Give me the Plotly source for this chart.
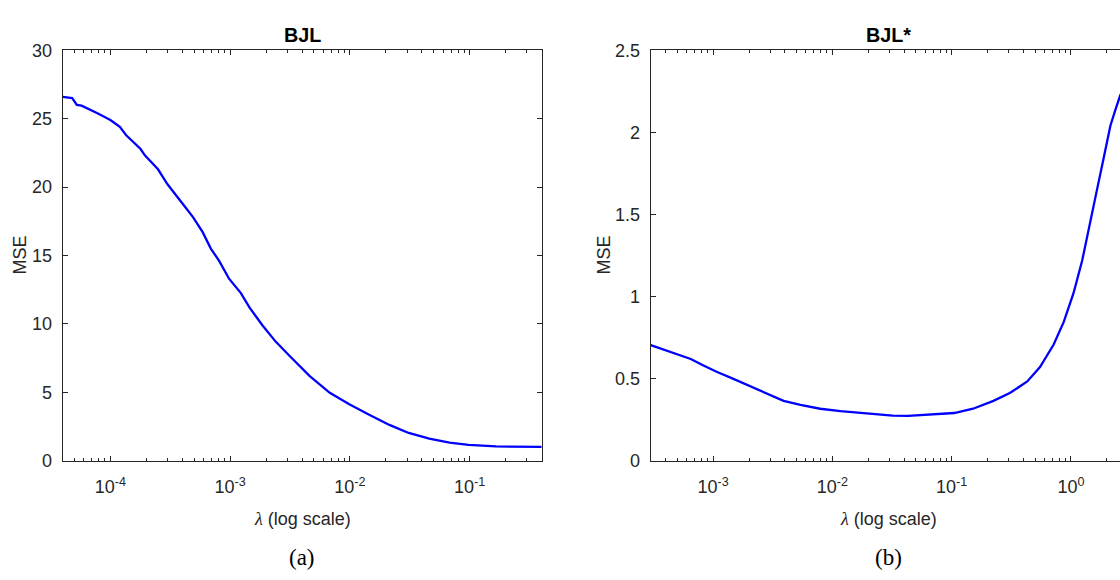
import plotly.graph_objects as go

# ---- data: BJL (panel a) ----
lam_a = [4.0e-5, 4.8e-5, 5.25e-5, 5.75e-5, 7.8e-5, 1.0e-4, 1.2e-4, 1.35e-4, 1.78e-4, 1.95e-4,
         2.5e-4, 3.0e-4, 4.0e-4, 4.9e-4, 5.9e-4, 6.9e-4, 8.1e-4, 9.8e-4, 1.23e-3, 1.45e-3,
         1.86e-3, 2.4e-3, 3.1e-3, 4.6e-3, 6.8e-3, 9.8e-3, 1.45e-2, 2.14e-2, 3.1e-2, 4.6e-2,
         6.8e-2, 9.8e-2, 0.166, 0.275, 0.4]
mse_a = [26.6, 26.5, 26.0, 25.95, 25.4, 24.9, 24.4, 23.8, 22.8, 22.3,
         21.3, 20.2, 18.8, 17.8, 16.7, 15.5, 14.6, 13.3, 12.25, 11.2,
         9.9, 8.7, 7.7, 6.2, 4.96, 4.14, 3.36, 2.61, 2.02, 1.6,
         1.32, 1.15, 1.04, 1.01, 1.0]

# ---- data: BJL* (panel b) ----
lam_b = [3.0e-4, 3.6e-4, 4.7e-4, 6.5e-4, 8.3e-4, 1.07e-3, 1.48e-3, 2.04e-3, 2.8e-3, 3.9e-3,
         5.4e-3, 7.9e-3, 1.17e-2, 1.95e-2, 3.2e-2, 4.3e-2, 7.1e-2, 0.105, 0.151, 0.224,
         0.31, 0.43, 0.55, 0.716, 0.87, 1.05, 1.24, 1.46, 1.65, 1.88,
         2.14, 2.36, 2.59, 2.9]
mse_b = [0.704, 0.684, 0.658, 0.619, 0.58, 0.541, 0.498, 0.453, 0.41, 0.364,
         0.339, 0.316, 0.302, 0.286, 0.274, 0.272, 0.280, 0.29, 0.316, 0.364,
         0.413, 0.482, 0.57, 0.707, 0.845, 1.02, 1.217, 1.452, 1.648, 1.844,
         2.04, 2.138, 2.226, 2.30]

xtick_a_vals = [1e-4, 1e-3, 1e-2, 1e-1]
xtick_a_text = ["10<sup>-4</sup>", "10<sup>-3</sup>", "10<sup>-2</sup>", "10<sup>-1</sup>"]
xtick_b_vals = [1e-3, 1e-2, 1e-1, 1e0]
xtick_b_text = ["10<sup>-3</sup>", "10<sup>-2</sup>", "10<sup>-1</sup>", "10<sup>0</sup>"]
ytick_a = [0, 5, 10, 15, 20, 25, 30]
ytick_b = [0, 0.5, 1, 1.5, 2, 2.5]
ytick_b_text = ["0", "0.5", "1", "1.5", "2", "2.5"]

# minor tick positions (2..9 x each decade)
minor_vals = [m * 10.0 ** e for e in range(-6, 2) for m in range(2, 10)]

W, H = 1120, 580
AX = "#262626"
SANS = "Liberation Sans, Arial, sans-serif"
SERIF = "Liberation Serif, DejaVu Serif, serif"
FS = 18

fig = go.Figure()
fig.add_trace(go.Scatter(x=lam_a, y=mse_a, mode="lines", line=dict(color="#0000ff", width=2.3),
                         xaxis="x", yaxis="y", showlegend=False))
fig.add_trace(go.Scatter(x=lam_b, y=mse_b, mode="lines", line=dict(color="#0000ff", width=2.3),
                         xaxis="x2", yaxis="y2", showlegend=False))

top_px, bot_px = 41.7, 466.7
ydom = [1 - bot_px / H, 1 - top_px / H]
xdom_a = [62.7 / W, 541.7 / W]
xdom_b = [650.7 / W, 1.0]

common_x = dict(type="log", showline=True, linecolor=AX, linewidth=1, ticks="inside",
                ticklen=5, tickwidth=1, tickcolor=AX, mirror="ticks", showgrid=False,
                zeroline=False, tickfont=dict(family=SANS, size=FS, color=AX),
                minor=dict(tickmode="array", tickvals=minor_vals, ticks="inside", ticklen=3,
                           tickwidth=1, tickcolor=AX, showgrid=False),
                ticklabelstandoff=10)
common_y = dict(showline=True, linecolor=AX, linewidth=1, ticks="inside", ticklen=5,
                tickwidth=1, tickcolor=AX, showgrid=False, zeroline=False,
                tickfont=dict(family=SANS, size=FS, color=AX), ticklabelstandoff=6)

fig.update_layout(
    width=W, height=H, margin=dict(l=0, r=0, t=0, b=0),
    paper_bgcolor="white", plot_bgcolor="white",
    xaxis=dict(common_x, domain=xdom_a, anchor="y", range=[-4.398, -0.398],
               tickvals=xtick_a_vals, ticktext=xtick_a_text),
    yaxis=dict(common_y, domain=ydom, anchor="x", range=[0, 30], tickvals=ytick_a, mirror="ticks"),
    xaxis2=dict(common_x, domain=xdom_b, anchor="y2", range=[-3.523, 0.411],
                tickvals=xtick_b_vals, ticktext=xtick_b_text),
    yaxis2=dict(common_y, domain=ydom, anchor="x2", range=[0, 2.5], tickvals=ytick_b,
                ticktext=ytick_b_text, mirror=False),
)

cx_a = (xdom_a[0] + xdom_a[1]) / 2
cx_b = (650.7 + 1126) / 2 / W
plot_mid = 1 - (top_px + bot_px) / 2 / H

xlabel = "<span style=\"font-family:'Liberation Serif'\"><i>λ</i></span> (log scale)"
for cx in (cx_a, cx_b):
    fig.add_annotation(x=cx, y=1 - 527 / H, xref="paper", yref="paper", text=xlabel,
                       showarrow=False, font=dict(family=SANS, size=FS, color=AX),
                       xanchor="center", yanchor="middle")
for xp in (20, 604):
    fig.add_annotation(x=xp / W, y=plot_mid, xref="paper", yref="paper", text="MSE",
                       textangle=-90, showarrow=False, font=dict(family=SANS, size=FS, color=AX),
                       xanchor="center", yanchor="middle")
for cx, t in [(cx_a, "<b>BJL</b>"), (cx_b, "<b>BJL*</b>")]:
    fig.add_annotation(x=cx, y=1 - 26 / H, xref="paper", yref="paper", text=t, showarrow=False,
                       font=dict(family=SANS, size=19.8, color="black"), xanchor="center", yanchor="middle")
for cx, t in [(cx_a, "(a)"), (cx_b, "(b)")]:
    fig.add_annotation(x=cx, y=1 - 567 / H, xref="paper", yref="paper", text=t, showarrow=False,
                       font=dict(family=SERIF, size=23, color="black"), xanchor="center", yanchor="middle")

fig.write_html("out.html")
